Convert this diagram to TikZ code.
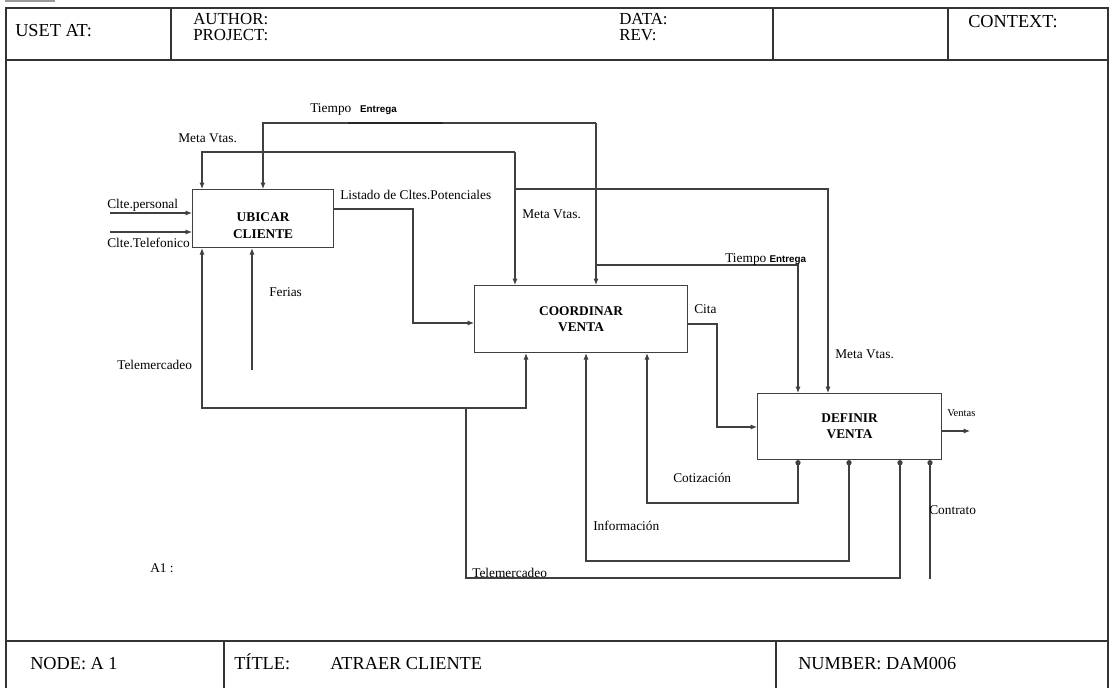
\documentclass[tikz,border=0pt]{standalone}
\usepackage{fontspec}
\setmainfont{Liberation Serif}
\newfontfamily\sansentrega{Liberation Sans}
\usetikzlibrary{arrows.meta, calc, positioning}
\tikzset{> = { Latex[length = 1.6mm, width = 1.3mm] }}
\tikzset{
	bdot/.tip = {Circle[length = 1.3mm]},
	frm/.style = {line width = 1pt, draw = black!80},
	flow/.style = {line width = 0.8pt, draw = black!75},
	proc/.style = {draw = black!75, line width = 0.8pt, rectangle, inner sep = 0pt, anchor = north west},
	ptext/.style = {align = center, inner sep = 0pt, font = \fontsize{9.5}{11.5}\selectfont\bfseries},
	head/.style = {anchor = base west, inner sep = 0pt, font = \fontsize{13}{15}\selectfont},
	headsm/.style = {head, font = \fontsize{12}{14}\selectfont},
	lbl/.style = {anchor = west, inner sep = 0pt, font = \fontsize{9.5}{11}\selectfont}
}
\newcommand{\entregatxt}{{\sansentrega\bfseries\fontsize{7}{8}\selectfont Entrega}}

\begin{document}
\begin{tikzpicture}[x = 0.25mm, y = -0.25mm]
		\useasboundingbox (0, 0) rectangle (1114, 688);
		\fill [black!40] (5, 0) rectangle (55, 2);

		% form
		\draw [frm] (6, 688) -- (6, 8) -- (1108, 8) -- (1108, 688);
		\draw [frm] (6, 60) -- (1108, 60);
		\draw [frm] (6, 641) -- (1108, 641);
		\foreach \x in {171, 773, 948} \draw [frm] (\x, 8) -- (\x, 60);
		\foreach \x in {224, 776} \draw [frm] (\x, 641) -- (\x, 688);

		\node [head] (usetat) at (15, 36) {USET AT:};
		\node [headsm] (author) at (193, 24) {AUTHOR:};
		\node [headsm] (project) at (193, 40) {PROJECT:};
		\node [headsm] (data) at (619, 24) {DATA:};
		\node [headsm] (rev) at (619, 40) {REV:};
		\node [head] (context) at (968, 27) {CONTEXT:};
		\node [head] (nodeid) at (30, 669) {NODE: A 1};
		\node [head] (title) at (234, 669) {TÍTLE:};
		\node [head] (titletxt) at (330, 669) {ATRAER CLIENTE};
		\node [head] (number) at (798, 669) {NUMBER: DAM006};

		% activities
		\node [proc, minimum width = 35.25mm, minimum height = 14.5mm] (ubicar) at (192, 189) {};
		\node [ptext] at ($(ubicar.center) + (0, 7)$) {UBICAR\\CLIENTE};
		\node [proc, minimum width = 53.25mm, minimum height = 16.75mm] (coordinar) at (474, 285) {};
		\node [ptext] at (coordinar.center) {COORDINAR\\VENTA};
		\node [proc, minimum width = 46mm, minimum height = 16.5mm] (definir) at (757, 393) {};
		\node [ptext] at (definir.center) {DEFINIR\\VENTA};

		% inputs
		\coordinate (cper) at (110, 213);
		\coordinate (ctel) at (110, 232);
		\draw [flow, ->] (cper) -- (cper -| ubicar.west);
		\draw [flow, ->] (ctel) -- (ctel -| ubicar.west);
		\node [lbl] at (107, 205) {Clte.personal};
		\node [lbl] at (107, 243) {Clte.Telefonico};

		% controls
		\coordinate (mv1) at (202, 152);
		\coordinate (mv2) at (515, 152);
		\coordinate (mv3) at (515, 189);
		\coordinate (mv4) at (828, 189);
		\draw [flow, ->] (mv2) -- (mv1) -- (mv1 |- ubicar.north);
		\draw [flow, ->] (mv2) -- (mv2 |- coordinar.north);
		\draw [flow, ->] (mv3) -- (mv4) -- (mv4 |- definir.north);
		\node [lbl] at (178, 138) {Meta Vtas.};
		\node [lbl] at (522, 214) {Meta Vtas.};
		\node [lbl] at (835, 354) {Meta Vtas.};

		\coordinate (te1) at (263, 123);
		\coordinate (te2) at (596, 123);
		\coordinate (te3) at (596, 265);
		\coordinate (te4) at (798, 265);
		\draw [flow, ->] (te2) -- (te1) -- (te1 |- ubicar.north);
		\draw [flow, ->] (te2) -- (te2 |- coordinar.north);
		\draw [flow, ->] (te3) -- (te4) -- (te4 |- definir.north);
		\draw [line width = 1.3pt, black!85] (348, 123) -- (443, 123);
		\node [lbl] at (310, 109) {Tiempo\hspace{2.2mm}\entregatxt};
		\node [lbl] at (725, 259) {Tiempo\hspace{0.8mm}\entregatxt};

		% outputs
		\coordinate (ls1) at (413, 209);
		\coordinate (ls2) at (413, 323);
		\draw [flow, ->] (ls1 -| ubicar.east) -- (ls1) -- (ls2) -- (ls2 -| coordinar.west);
		\node [lbl] at (340, 195) {Listado de Cltes.Potenciales};

		\coordinate (ci1) at (717, 324);
		\coordinate (ci2) at (717, 427);
		\draw [flow, ->] (ci1 -| coordinar.east) -- (ci1) -- (ci2) -- (ci2 -| definir.west);
		\node [lbl] at (694, 309) {Cita};

		\coordinate (ve) at (970, 431);
		\draw [flow, ->] (ve -| definir.east) -- (ve);
		\node [lbl, font = \fontsize{7.5}{9}\selectfont] at (947, 413) {Ventas};

		% mechanisms
		\coordinate (fe) at (252, 370);
		\draw [flow, ->] (fe) -- (fe |- ubicar.south);
		\node [lbl] at (269, 292) {Ferias};

		\coordinate (tm1) at (202, 408);
		\coordinate (tm2) at (526, 408);
		\draw [flow, <->] (tm1 |- ubicar.south) -- (tm1) -- (tm2) -- (tm2 |- coordinar.south);
		\node [lbl] at (117, 365) {Telemercadeo};

		\coordinate (tm3) at (466, 408);
		\coordinate (tm4) at (466, 578);
		\coordinate (tm5) at (900, 578);
		\draw [flow, -bdot] (tm3) -- (tm4) -- (tm5) -- (tm5 |- definir.south);
		\node [lbl] at (472, 573) {Telemercadeo};

		\coordinate (co1) at (798, 503);
		\coordinate (co2) at (647, 503);
		\draw [flow, bdot->] (co1 |- definir.south) -- (co1) -- (co2) -- (co2 |- coordinar.south);
		\node [lbl] at (673, 478) {Cotización};

		\coordinate (in1) at (849, 561);
		\coordinate (in2) at (586, 561);
		\draw [flow, bdot->] (in1 |- definir.south) -- (in1) -- (in2) -- (in2 |- coordinar.south);
		\node [lbl] at (593, 526) {Información};

		\coordinate (ct) at (930, 579);
		\draw [flow, -bdot] (ct) -- (ct |- definir.south);
		\node [lbl] at (929, 510) {Contrato};

		\node [lbl] at (150, 568) {A1 :};
	\end{tikzpicture}
\end{document}
